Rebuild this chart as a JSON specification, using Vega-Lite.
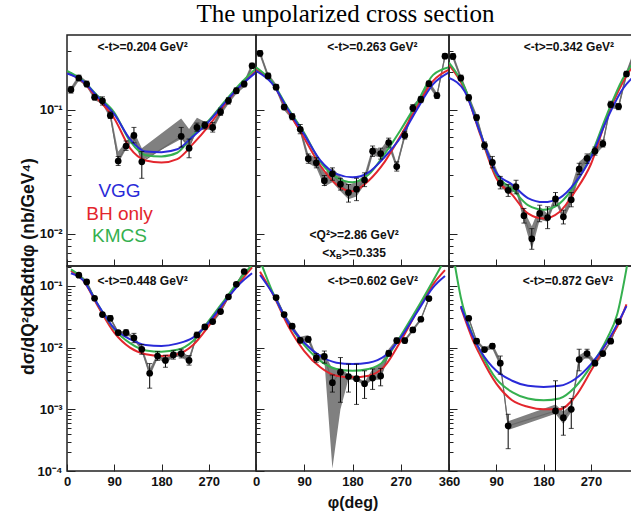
{
"$schema":"https://vega.github.io/schema/vega-lite/v6.json",
"padding":{"left":18,"top":2,"right":0,"bottom":0},
"title":{"text":"The unpolarized cross section","font":"Liberation Serif","fontSize":25,"fontWeight":"normal","color":"#000","anchor":"middle","offset":7,"dx":20},
"config":{
 "view":{"stroke":"#222","strokeWidth":1.5},
 "axis":{"grid":false,"domain":false,"tickColor":"#222","tickWidth":1,"labelFont":"Liberation Sans","labelFontWeight":"bold","labelFontSize":13,"labelColor":"#111","titleFont":"Liberation Sans","titleFontWeight":"bold","titleFontSize":15,"titleColor":"#111","labelOverlap":false,"labelFlush":false},
 "text":{"font":"Liberation Sans"}
},
"datasets":{
 "pts":[
{"p":"TL","phi":7.5,"v":0.145,"lo":0.136,"hi":0.154,"slo":0.137,"shi":0.152},
{"p":"TL","phi":22.5,"v":0.18,"lo":0.172,"hi":0.19,"slo":0.171,"shi":0.19},
{"p":"TL","phi":37.5,"v":0.161,"lo":0.153,"hi":0.17,"slo":0.153,"shi":0.17},
{"p":"TL","phi":52.5,"v":0.126,"lo":0.12,"hi":0.133,"slo":0.119,"shi":0.134},
{"p":"TL","phi":67.5,"v":0.118,"lo":0.109,"hi":0.127,"slo":0.111,"shi":0.126},
{"p":"TL","phi":82.5,"v":0.09,"lo":0.085,"hi":0.096,"slo":0.084,"shi":0.098},
{"p":"TL","phi":97.5,"v":0.0386,"lo":0.0355,"hi":0.042,"slo":0.037,"shi":0.046},
{"p":"TL","phi":112.5,"v":0.051,"lo":0.047,"hi":0.056,"slo":0.048,"shi":0.055},
{"p":"TL","phi":127.5,"v":0.062,"lo":0.054,"hi":0.072,"slo":0.058,"shi":0.067},
{"p":"TL","phi":142.5,"v":0.038,"lo":0.028,"hi":0.046,"slo":0.039,"shi":0.049},
{"p":"TL","phi":217.5,"v":0.061,"lo":0.05,"hi":0.072,"slo":0.058,"shi":0.085},
{"p":"TL","phi":232.5,"v":0.049,"lo":0.041,"hi":0.058,"slo":0.05,"shi":0.07},
{"p":"TL","phi":247.5,"v":0.072,"lo":0.067,"hi":0.078,"slo":0.066,"shi":0.086},
{"p":"TL","phi":262.5,"v":0.075,"lo":0.07,"hi":0.08,"slo":0.07,"shi":0.08},
{"p":"TL","phi":277.5,"v":0.072,"lo":0.066,"hi":0.079,"slo":0.068,"shi":0.077},
{"p":"TL","phi":292.5,"v":0.096,"lo":0.09,"hi":0.103,"slo":0.09,"shi":0.102},
{"p":"TL","phi":307.5,"v":0.118,"lo":0.111,"hi":0.125,"slo":0.111,"shi":0.125},
{"p":"TL","phi":322.5,"v":0.142,"lo":0.135,"hi":0.15,"slo":0.134,"shi":0.15},
{"p":"TL","phi":337.5,"v":0.161,"lo":0.153,"hi":0.17,"slo":0.152,"shi":0.17},
{"p":"TL","phi":352.5,"v":0.226,"lo":0.215,"hi":0.237,"slo":0.213,"shi":0.24},
{"p":"TM","phi":7.5,"v":0.285,"lo":0.27,"hi":0.3,"slo":0.27,"shi":0.3},
{"p":"TM","phi":22.5,"v":0.187,"lo":0.178,"hi":0.197,"slo":0.176,"shi":0.198},
{"p":"TM","phi":37.5,"v":0.152,"lo":0.145,"hi":0.16,"slo":0.143,"shi":0.161},
{"p":"TM","phi":52.5,"v":0.105,"lo":0.1,"hi":0.11,"slo":0.099,"shi":0.111},
{"p":"TM","phi":67.5,"v":0.088,"lo":0.083,"hi":0.093,"slo":0.083,"shi":0.093},
{"p":"TM","phi":82.5,"v":0.0695,"lo":0.064,"hi":0.076,"slo":0.065,"shi":0.074},
{"p":"TM","phi":97.5,"v":0.0403,"lo":0.037,"hi":0.044,"slo":0.037,"shi":0.044},
{"p":"TM","phi":112.5,"v":0.0373,"lo":0.034,"hi":0.041,"slo":0.034,"shi":0.041},
{"p":"TM","phi":127.5,"v":0.0268,"lo":0.0245,"hi":0.0295,"slo":0.024,"shi":0.031},
{"p":"TM","phi":142.5,"v":0.0304,"lo":0.027,"hi":0.034,"slo":0.026,"shi":0.034},
{"p":"TM","phi":157.5,"v":0.0251,"lo":0.0225,"hi":0.028,"slo":0.022,"shi":0.029},
{"p":"TM","phi":172.5,"v":0.0215,"lo":0.018,"hi":0.025,"slo":0.019,"shi":0.025},
{"p":"TM","phi":187.5,"v":0.0229,"lo":0.0185,"hi":0.028,"slo":0.02,"shi":0.026},
{"p":"TM","phi":202.5,"v":0.0271,"lo":0.024,"hi":0.031,"slo":0.025,"shi":0.03},
{"p":"TM","phi":217.5,"v":0.0463,"lo":0.042,"hi":0.051,"slo":0.043,"shi":0.05},
{"p":"TM","phi":232.5,"v":0.0443,"lo":0.04,"hi":0.049,"slo":0.041,"shi":0.048},
{"p":"TM","phi":247.5,"v":0.0544,"lo":0.05,"hi":0.059,"slo":0.05,"shi":0.059},
{"p":"TM","phi":262.5,"v":0.0348,"lo":0.032,"hi":0.038,"slo":0.033,"shi":0.037},
{"p":"TM","phi":277.5,"v":0.062,"lo":0.058,"hi":0.067,"slo":0.058,"shi":0.066},
{"p":"TM","phi":292.5,"v":0.103,"lo":0.097,"hi":0.11,"slo":0.097,"shi":0.109},
{"p":"TM","phi":307.5,"v":0.121,"lo":0.114,"hi":0.128,"slo":0.114,"shi":0.128},
{"p":"TM","phi":322.5,"v":0.162,"lo":0.154,"hi":0.17,"slo":0.153,"shi":0.171},
{"p":"TM","phi":337.5,"v":0.13,"lo":0.123,"hi":0.137,"slo":0.123,"shi":0.137},
{"p":"TM","phi":352.5,"v":0.27,"lo":0.258,"hi":0.283,"slo":0.255,"shi":0.286},
{"p":"TR","phi":7.5,"v":0.269,"lo":0.255,"hi":0.283,"slo":0.254,"shi":0.285},
{"p":"TR","phi":22.5,"v":0.18,"lo":0.171,"hi":0.19,"slo":0.17,"shi":0.19},
{"p":"TR","phi":37.5,"v":0.125,"lo":0.118,"hi":0.132,"slo":0.118,"shi":0.132},
{"p":"TR","phi":52.5,"v":0.0865,"lo":0.082,"hi":0.091,"slo":0.081,"shi":0.092},
{"p":"TR","phi":67.5,"v":0.0515,"lo":0.048,"hi":0.055,"slo":0.048,"shi":0.055},
{"p":"TR","phi":82.5,"v":0.0376,"lo":0.034,"hi":0.042,"slo":0.035,"shi":0.04},
{"p":"TR","phi":97.5,"v":0.0256,"lo":0.023,"hi":0.029,"slo":0.024,"shi":0.028},
{"p":"TR","phi":112.5,"v":0.0224,"lo":0.02,"hi":0.025,"slo":0.021,"shi":0.024},
{"p":"TR","phi":127.5,"v":0.0239,"lo":0.021,"hi":0.027,"slo":0.022,"shi":0.026},
{"p":"TR","phi":142.5,"v":0.014,"lo":0.0122,"hi":0.016,"slo":0.0125,"shi":0.0155},
{"p":"TR","phi":157.5,"v":0.0091,"lo":0.0075,"hi":0.011,"slo":0.0075,"shi":0.0115},
{"p":"TR","phi":172.5,"v":0.0146,"lo":0.0125,"hi":0.017,"slo":0.013,"shi":0.0165},
{"p":"TR","phi":187.5,"v":0.0135,"lo":0.011,"hi":0.0165,"slo":0.0125,"shi":0.0145},
{"p":"TR","phi":202.5,"v":0.0191,"lo":0.017,"hi":0.0215,"slo":0.018,"shi":0.0205},
{"p":"TR","phi":217.5,"v":0.0137,"lo":0.012,"hi":0.0155,"slo":0.0128,"shi":0.0146},
{"p":"TR","phi":232.5,"v":0.0188,"lo":0.0165,"hi":0.0215,"slo":0.0175,"shi":0.024},
{"p":"TR","phi":247.5,"v":0.0332,"lo":0.03,"hi":0.037,"slo":0.029,"shi":0.038},
{"p":"TR","phi":262.5,"v":0.0406,"lo":0.037,"hi":0.044,"slo":0.038,"shi":0.043},
{"p":"TR","phi":277.5,"v":0.0463,"lo":0.043,"hi":0.05,"slo":0.043,"shi":0.049},
{"p":"TR","phi":292.5,"v":0.0532,"lo":0.05,"hi":0.057,"slo":0.05,"shi":0.056},
{"p":"TR","phi":307.5,"v":0.11,"lo":0.104,"hi":0.117,"slo":0.103,"shi":0.117},
{"p":"TR","phi":322.5,"v":0.106,"lo":0.1,"hi":0.112,"slo":0.1,"shi":0.112},
{"p":"TR","phi":337.5,"v":0.194,"lo":0.185,"hi":0.204,"slo":0.182,"shi":0.206},
{"p":"TR","phi":352.5,"v":0.29,"lo":0.276,"hi":0.305,"slo":0.272,"shi":0.31},
{"p":"BL","phi":22.5,"v":0.149,"lo":0.14,"hi":0.158,"slo":0.14,"shi":0.158},
{"p":"BL","phi":37.5,"v":0.116,"lo":0.109,"hi":0.124,"slo":0.109,"shi":0.123},
{"p":"BL","phi":52.5,"v":0.063,"lo":0.059,"hi":0.067,"slo":0.059,"shi":0.067},
{"p":"BL","phi":67.5,"v":0.0343,"lo":0.032,"hi":0.037,"slo":0.032,"shi":0.036},
{"p":"BL","phi":82.5,"v":0.0299,"lo":0.027,"hi":0.033,"slo":0.028,"shi":0.032},
{"p":"BL","phi":97.5,"v":0.0175,"lo":0.016,"hi":0.019,"slo":0.0164,"shi":0.0186},
{"p":"BL","phi":112.5,"v":0.0175,"lo":0.0155,"hi":0.0195,"slo":0.0164,"shi":0.0186},
{"p":"BL","phi":127.5,"v":0.0144,"lo":0.012,"hi":0.017,"slo":0.0135,"shi":0.0153},
{"p":"BL","phi":142.5,"v":0.0094,"lo":0.0078,"hi":0.0112,"slo":0.0085,"shi":0.0105},
{"p":"BL","phi":157.5,"v":0.00384,"lo":0.0022,"hi":0.0055,"slo":0.0034,"shi":0.0045},
{"p":"BL","phi":172.5,"v":0.0073,"lo":0.0062,"hi":0.0086,"slo":0.0066,"shi":0.008},
{"p":"BL","phi":187.5,"v":0.0062,"lo":0.0048,"hi":0.0075,"slo":0.0056,"shi":0.0068},
{"p":"BL","phi":202.5,"v":0.0076,"lo":0.0065,"hi":0.0089,"slo":0.007,"shi":0.0082},
{"p":"BL","phi":217.5,"v":0.008,"lo":0.0068,"hi":0.0094,"slo":0.0072,"shi":0.0088},
{"p":"BL","phi":232.5,"v":0.0062,"lo":0.0052,"hi":0.0074,"slo":0.0056,"shi":0.0072},
{"p":"BL","phi":247.5,"v":0.016,"lo":0.0145,"hi":0.0178,"slo":0.015,"shi":0.0172},
{"p":"BL","phi":262.5,"v":0.0216,"lo":0.0198,"hi":0.0235,"slo":0.0203,"shi":0.023},
{"p":"BL","phi":277.5,"v":0.0264,"lo":0.0245,"hi":0.0285,"slo":0.0248,"shi":0.028},
{"p":"BL","phi":292.5,"v":0.0384,"lo":0.036,"hi":0.041,"slo":0.036,"shi":0.041},
{"p":"BL","phi":307.5,"v":0.0664,"lo":0.062,"hi":0.071,"slo":0.0624,"shi":0.0705},
{"p":"BL","phi":322.5,"v":0.106,"lo":0.1,"hi":0.113,"slo":0.0996,"shi":0.112},
{"p":"BL","phi":337.5,"v":0.171,"lo":0.162,"hi":0.18,"slo":0.161,"shi":0.181},
{"p":"BM","phi":37.5,"v":0.0647,"lo":0.06,"hi":0.07,"slo":0.061,"shi":0.069},
{"p":"BM","phi":52.5,"v":0.0343,"lo":0.032,"hi":0.037,"slo":0.0322,"shi":0.0364},
{"p":"BM","phi":67.5,"v":0.0222,"lo":0.0205,"hi":0.024,"slo":0.0209,"shi":0.0235},
{"p":"BM","phi":82.5,"v":0.0131,"lo":0.012,"hi":0.0143,"slo":0.0115,"shi":0.015},
{"p":"BM","phi":97.5,"v":0.0136,"lo":0.0122,"hi":0.015,"slo":0.0125,"shi":0.016},
{"p":"BM","phi":112.5,"v":0.0068,"lo":0.0058,"hi":0.008,"slo":0.0062,"shi":0.0075},
{"p":"BM","phi":127.5,"v":0.0072,"lo":0.0056,"hi":0.0088,"slo":0.0062,"shi":0.0082},
{"p":"BM","phi":142.5,"v":0.0027,"lo":0.0019,"hi":0.0036,"slo":0.00011,"shi":0.0045},
{"p":"BM","phi":157.5,"v":0.004,"lo":0.0013,"hi":0.0069,"slo":0.001,"shi":0.0046},
{"p":"BM","phi":172.5,"v":0.0034,"lo":0.0019,"hi":0.0054,"slo":0.0031,"shi":0.0037},
{"p":"BM","phi":187.5,"v":0.00314,"lo":0.0012,"hi":0.0054,"slo":0.0029,"shi":0.0034},
{"p":"BM","phi":202.5,"v":0.0026,"lo":0.0015,"hi":0.0042,"slo":0.0024,"shi":0.0028},
{"p":"BM","phi":217.5,"v":0.0032,"lo":0.0021,"hi":0.0045,"slo":0.003,"shi":0.0045},
{"p":"BM","phi":232.5,"v":0.00347,"lo":0.0024,"hi":0.0046,"slo":0.003,"shi":0.0055},
{"p":"BM","phi":247.5,"v":0.0081,"lo":0.0072,"hi":0.009,"slo":0.0075,"shi":0.0095},
{"p":"BM","phi":262.5,"v":0.013,"lo":0.0118,"hi":0.0143,"slo":0.0122,"shi":0.0138},
{"p":"BM","phi":277.5,"v":0.013,"lo":0.0118,"hi":0.0143,"slo":0.0122,"shi":0.0138},
{"p":"BM","phi":292.5,"v":0.0193,"lo":0.0178,"hi":0.021,"slo":0.0181,"shi":0.0205},
{"p":"BM","phi":307.5,"v":0.0288,"lo":0.027,"hi":0.031,"slo":0.027,"shi":0.0305},
{"p":"BM","phi":322.5,"v":0.0624,"lo":0.058,"hi":0.067,"slo":0.0587,"shi":0.066},
{"p":"BR","phi":37.5,"v":0.0299,"lo":0.028,"hi":0.032,"slo":0.028,"shi":0.032},
{"p":"BR","phi":52.5,"v":0.0127,"lo":0.0118,"hi":0.0137,"slo":0.0119,"shi":0.0135},
{"p":"BR","phi":67.5,"v":0.0093,"lo":0.0086,"hi":0.0101,"slo":0.0087,"shi":0.0099},
{"p":"BR","phi":82.5,"v":0.0106,"lo":0.0097,"hi":0.0116,"slo":0.0095,"shi":0.0118},
{"p":"BR","phi":97.5,"v":0.0056,"lo":0.0037,"hi":0.0073,"slo":0.005,"shi":0.0065},
{"p":"BR","phi":112.5,"v":0.00054,"lo":0.00023,"hi":0.00083,"slo":0.00046,"shi":0.00064},
{"p":"BR","phi":202.5,"v":0.00094,"lo":0.00009,"hi":0.0029,"slo":0.00085,"shi":0.0012},
{"p":"BR","phi":217.5,"v":0.00073,"lo":0.00038,"hi":0.0011,"slo":0.00058,"shi":0.00092},
{"p":"BR","phi":232.5,"v":0.001,"lo":0.00049,"hi":0.0015,"slo":0.0009,"shi":0.0012},
{"p":"BR","phi":247.5,"v":0.0064,"lo":0.0042,"hi":0.0094,"slo":0.0055,"shi":0.0075},
{"p":"BR","phi":262.5,"v":0.008,"lo":0.0068,"hi":0.0094,"slo":0.0072,"shi":0.009},
{"p":"BR","phi":277.5,"v":0.0056,"lo":0.0051,"hi":0.0062,"slo":0.005,"shi":0.0062},
{"p":"BR","phi":292.5,"v":0.008,"lo":0.0074,"hi":0.0087,"slo":0.0075,"shi":0.0085},
{"p":"BR","phi":307.5,"v":0.0127,"lo":0.0118,"hi":0.0137,"slo":0.012,"shi":0.0134},
{"p":"BR","phi":322.5,"v":0.0264,"lo":0.0245,"hi":0.0285,"slo":0.025,"shi":0.028}
 ],
 "cur":[
{"p":"TL","m":"BH","phi":0,"v":0.2},{"p":"TL","m":"BH","phi":30,"v":0.168},{"p":"TL","m":"BH","phi":60,"v":0.12},{"p":"TL","m":"BH","phi":90,"v":0.085},{"p":"TL","m":"BH","phi":120,"v":0.049},{"p":"TL","m":"BH","phi":150,"v":0.039},{"p":"TL","m":"BH","phi":180,"v":0.0375},{"p":"TL","m":"BH","phi":210,"v":0.04},{"p":"TL","m":"BH","phi":240,"v":0.053},{"p":"TL","m":"BH","phi":270,"v":0.074},{"p":"TL","m":"BH","phi":300,"v":0.11},{"p":"TL","m":"BH","phi":330,"v":0.155},{"p":"TL","m":"BH","phi":360,"v":0.205},
{"p":"TL","m":"KMCS","phi":0,"v":0.205},{"p":"TL","m":"KMCS","phi":30,"v":0.172},{"p":"TL","m":"KMCS","phi":60,"v":0.127},{"p":"TL","m":"KMCS","phi":90,"v":0.095},{"p":"TL","m":"KMCS","phi":120,"v":0.056},{"p":"TL","m":"KMCS","phi":150,"v":0.043},{"p":"TL","m":"KMCS","phi":180,"v":0.042},{"p":"TL","m":"KMCS","phi":210,"v":0.045},{"p":"TL","m":"KMCS","phi":240,"v":0.062},{"p":"TL","m":"KMCS","phi":270,"v":0.082},{"p":"TL","m":"KMCS","phi":300,"v":0.116},{"p":"TL","m":"KMCS","phi":330,"v":0.162},{"p":"TL","m":"KMCS","phi":360,"v":0.215},
{"p":"TL","m":"VGG","phi":0,"v":0.196},{"p":"TL","m":"VGG","phi":30,"v":0.17},{"p":"TL","m":"VGG","phi":60,"v":0.125},{"p":"TL","m":"VGG","phi":90,"v":0.092},{"p":"TL","m":"VGG","phi":120,"v":0.058},{"p":"TL","m":"VGG","phi":150,"v":0.046},{"p":"TL","m":"VGG","phi":180,"v":0.0455},{"p":"TL","m":"VGG","phi":210,"v":0.048},{"p":"TL","m":"VGG","phi":240,"v":0.061},{"p":"TL","m":"VGG","phi":270,"v":0.08},{"p":"TL","m":"VGG","phi":300,"v":0.113},{"p":"TL","m":"VGG","phi":330,"v":0.155},{"p":"TL","m":"VGG","phi":360,"v":0.2},
{"p":"TM","m":"BH","phi":0,"v":0.21},{"p":"TM","m":"BH","phi":30,"v":0.165},{"p":"TM","m":"BH","phi":60,"v":0.097},{"p":"TM","m":"BH","phi":90,"v":0.059},{"p":"TM","m":"BH","phi":120,"v":0.0355},{"p":"TM","m":"BH","phi":150,"v":0.025},{"p":"TM","m":"BH","phi":180,"v":0.022},{"p":"TM","m":"BH","phi":210,"v":0.0268},{"p":"TM","m":"BH","phi":240,"v":0.038},{"p":"TM","m":"BH","phi":270,"v":0.062},{"p":"TM","m":"BH","phi":300,"v":0.105},{"p":"TM","m":"BH","phi":330,"v":0.17},{"p":"TM","m":"BH","phi":360,"v":0.21},
{"p":"TM","m":"KMCS","phi":0,"v":0.22},{"p":"TM","m":"KMCS","phi":30,"v":0.168},{"p":"TM","m":"KMCS","phi":60,"v":0.102},{"p":"TM","m":"KMCS","phi":90,"v":0.065},{"p":"TM","m":"KMCS","phi":120,"v":0.038},{"p":"TM","m":"KMCS","phi":150,"v":0.0285},{"p":"TM","m":"KMCS","phi":180,"v":0.026},{"p":"TM","m":"KMCS","phi":210,"v":0.03},{"p":"TM","m":"KMCS","phi":240,"v":0.044},{"p":"TM","m":"KMCS","phi":270,"v":0.069},{"p":"TM","m":"KMCS","phi":300,"v":0.113},{"p":"TM","m":"KMCS","phi":330,"v":0.19},{"p":"TM","m":"KMCS","phi":360,"v":0.22},
{"p":"TM","m":"VGG","phi":0,"v":0.206},{"p":"TM","m":"VGG","phi":30,"v":0.163},{"p":"TM","m":"VGG","phi":60,"v":0.1},{"p":"TM","m":"VGG","phi":90,"v":0.063},{"p":"TM","m":"VGG","phi":120,"v":0.039},{"p":"TM","m":"VGG","phi":150,"v":0.0304},{"p":"TM","m":"VGG","phi":180,"v":0.0285},{"p":"TM","m":"VGG","phi":210,"v":0.0313},{"p":"TM","m":"VGG","phi":240,"v":0.0416},{"p":"TM","m":"VGG","phi":270,"v":0.06},{"p":"TM","m":"VGG","phi":300,"v":0.1},{"p":"TM","m":"VGG","phi":330,"v":0.16},{"p":"TM","m":"VGG","phi":360,"v":0.2},
{"p":"TR","m":"BH","phi":0,"v":0.23},{"p":"TR","m":"BH","phi":30,"v":0.145},{"p":"TR","m":"BH","phi":60,"v":0.062},{"p":"TR","m":"BH","phi":90,"v":0.028},{"p":"TR","m":"BH","phi":120,"v":0.0207},{"p":"TR","m":"BH","phi":150,"v":0.0146},{"p":"TR","m":"BH","phi":180,"v":0.0133},{"p":"TR","m":"BH","phi":210,"v":0.015},{"p":"TR","m":"BH","phi":240,"v":0.022},{"p":"TR","m":"BH","phi":270,"v":0.0365},{"p":"TR","m":"BH","phi":300,"v":0.086},{"p":"TR","m":"BH","phi":330,"v":0.165},{"p":"TR","m":"BH","phi":360,"v":0.26},
{"p":"TR","m":"KMCS","phi":0,"v":0.24},{"p":"TR","m":"KMCS","phi":30,"v":0.15},{"p":"TR","m":"KMCS","phi":60,"v":0.064},{"p":"TR","m":"KMCS","phi":90,"v":0.03},{"p":"TR","m":"KMCS","phi":120,"v":0.023},{"p":"TR","m":"KMCS","phi":150,"v":0.017},{"p":"TR","m":"KMCS","phi":180,"v":0.0156},{"p":"TR","m":"KMCS","phi":210,"v":0.0175},{"p":"TR","m":"KMCS","phi":240,"v":0.025},{"p":"TR","m":"KMCS","phi":270,"v":0.043},{"p":"TR","m":"KMCS","phi":300,"v":0.0906},{"p":"TR","m":"KMCS","phi":330,"v":0.176},{"p":"TR","m":"KMCS","phi":360,"v":0.27},
{"p":"TR","m":"VGG","phi":0,"v":0.18},{"p":"TR","m":"VGG","phi":30,"v":0.14},{"p":"TR","m":"VGG","phi":60,"v":0.064},{"p":"TR","m":"VGG","phi":90,"v":0.031},{"p":"TR","m":"VGG","phi":120,"v":0.025},{"p":"TR","m":"VGG","phi":150,"v":0.0194},{"p":"TR","m":"VGG","phi":180,"v":0.018},{"p":"TR","m":"VGG","phi":210,"v":0.0194},{"p":"TR","m":"VGG","phi":240,"v":0.0258},{"p":"TR","m":"VGG","phi":270,"v":0.0414},{"p":"TR","m":"VGG","phi":300,"v":0.083},{"p":"TR","m":"VGG","phi":330,"v":0.146},{"p":"TR","m":"VGG","phi":360,"v":0.2},
{"p":"BL","m":"BH","phi":7.5,"v":0.175},{"p":"BL","m":"BH","phi":30,"v":0.125},{"p":"BL","m":"BH","phi":60,"v":0.045},{"p":"BL","m":"BH","phi":90,"v":0.0175},{"p":"BL","m":"BH","phi":120,"v":0.01},{"p":"BL","m":"BH","phi":150,"v":0.0078},{"p":"BL","m":"BH","phi":180,"v":0.0073},{"p":"BL","m":"BH","phi":210,"v":0.0078},{"p":"BL","m":"BH","phi":240,"v":0.011},{"p":"BL","m":"BH","phi":270,"v":0.0225},{"p":"BL","m":"BH","phi":300,"v":0.053},{"p":"BL","m":"BH","phi":330,"v":0.118},{"p":"BL","m":"BH","phi":352.5,"v":0.2},
{"p":"BL","m":"KMCS","phi":7.5,"v":0.185},{"p":"BL","m":"KMCS","phi":30,"v":0.13},{"p":"BL","m":"KMCS","phi":60,"v":0.048},{"p":"BL","m":"KMCS","phi":90,"v":0.0197},{"p":"BL","m":"KMCS","phi":120,"v":0.0118},{"p":"BL","m":"KMCS","phi":150,"v":0.009},{"p":"BL","m":"KMCS","phi":180,"v":0.0086},{"p":"BL","m":"KMCS","phi":210,"v":0.0092},{"p":"BL","m":"KMCS","phi":240,"v":0.0128},{"p":"BL","m":"KMCS","phi":270,"v":0.027},{"p":"BL","m":"KMCS","phi":300,"v":0.059},{"p":"BL","m":"KMCS","phi":330,"v":0.13},{"p":"BL","m":"KMCS","phi":352.5,"v":0.22},
{"p":"BL","m":"VGG","phi":7.5,"v":0.16},{"p":"BL","m":"VGG","phi":30,"v":0.125},{"p":"BL","m":"VGG","phi":60,"v":0.048},{"p":"BL","m":"VGG","phi":90,"v":0.0205},{"p":"BL","m":"VGG","phi":120,"v":0.0137},{"p":"BL","m":"VGG","phi":150,"v":0.011},{"p":"BL","m":"VGG","phi":180,"v":0.0106},{"p":"BL","m":"VGG","phi":210,"v":0.0116},{"p":"BL","m":"VGG","phi":240,"v":0.0145},{"p":"BL","m":"VGG","phi":270,"v":0.0254},{"p":"BL","m":"VGG","phi":300,"v":0.055},{"p":"BL","m":"VGG","phi":330,"v":0.11},{"p":"BL","m":"VGG","phi":352.5,"v":0.16},
{"p":"BM","m":"BH","phi":7.5,"v":0.17},{"p":"BM","m":"BH","phi":30,"v":0.078},{"p":"BM","m":"BH","phi":60,"v":0.0224},{"p":"BM","m":"BH","phi":90,"v":0.0088},{"p":"BM","m":"BH","phi":120,"v":0.0048},{"p":"BM","m":"BH","phi":150,"v":0.0035},{"p":"BM","m":"BH","phi":180,"v":0.0033},{"p":"BM","m":"BH","phi":210,"v":0.0035},{"p":"BM","m":"BH","phi":240,"v":0.005},{"p":"BM","m":"BH","phi":270,"v":0.0128},{"p":"BM","m":"BH","phi":300,"v":0.038},{"p":"BM","m":"BH","phi":330,"v":0.105},{"p":"BM","m":"BH","phi":352.5,"v":0.18},
{"p":"BM","m":"KMCS","phi":7.5,"v":0.26},{"p":"BM","m":"KMCS","phi":30,"v":0.083},{"p":"BM","m":"KMCS","phi":60,"v":0.0254},{"p":"BM","m":"KMCS","phi":90,"v":0.011},{"p":"BM","m":"KMCS","phi":120,"v":0.0061},{"p":"BM","m":"KMCS","phi":150,"v":0.0045},{"p":"BM","m":"KMCS","phi":180,"v":0.0042},{"p":"BM","m":"KMCS","phi":210,"v":0.0045},{"p":"BM","m":"KMCS","phi":240,"v":0.0062},{"p":"BM","m":"KMCS","phi":270,"v":0.0155},{"p":"BM","m":"KMCS","phi":300,"v":0.042},{"p":"BM","m":"KMCS","phi":330,"v":0.12},{"p":"BM","m":"KMCS","phi":352.5,"v":0.27},
{"p":"BM","m":"VGG","phi":7.5,"v":0.15},{"p":"BM","m":"VGG","phi":30,"v":0.078},{"p":"BM","m":"VGG","phi":60,"v":0.0254},{"p":"BM","m":"VGG","phi":90,"v":0.012},{"p":"BM","m":"VGG","phi":120,"v":0.0073},{"p":"BM","m":"VGG","phi":150,"v":0.0057},{"p":"BM","m":"VGG","phi":180,"v":0.0054},{"p":"BM","m":"VGG","phi":210,"v":0.0057},{"p":"BM","m":"VGG","phi":240,"v":0.0073},{"p":"BM","m":"VGG","phi":270,"v":0.0145},{"p":"BM","m":"VGG","phi":300,"v":0.037},{"p":"BM","m":"VGG","phi":330,"v":0.094},{"p":"BM","m":"VGG","phi":352.5,"v":0.145},
{"p":"BR","m":"BH","phi":22.5,"v":0.045},{"p":"BR","m":"BH","phi":45,"v":0.0135},{"p":"BR","m":"BH","phi":60,"v":0.0073},{"p":"BR","m":"BH","phi":90,"v":0.0026},{"p":"BR","m":"BH","phi":120,"v":0.0014},{"p":"BR","m":"BH","phi":150,"v":0.0011},{"p":"BR","m":"BH","phi":180,"v":0.001},{"p":"BR","m":"BH","phi":210,"v":0.001},{"p":"BR","m":"BH","phi":240,"v":0.0016},{"p":"BR","m":"BH","phi":270,"v":0.0042},{"p":"BR","m":"BH","phi":300,"v":0.012},{"p":"BR","m":"BH","phi":320,"v":0.022},{"p":"BR","m":"BH","phi":337.5,"v":0.05},
{"p":"BR","m":"KMCS","phi":10,"v":0.25},{"p":"BR","m":"KMCS","phi":22.5,"v":0.065},{"p":"BR","m":"KMCS","phi":45,"v":0.016},{"p":"BR","m":"KMCS","phi":60,"v":0.0085},{"p":"BR","m":"KMCS","phi":90,"v":0.0031},{"p":"BR","m":"KMCS","phi":120,"v":0.0019},{"p":"BR","m":"KMCS","phi":150,"v":0.0015},{"p":"BR","m":"KMCS","phi":180,"v":0.0014},{"p":"BR","m":"KMCS","phi":210,"v":0.0015},{"p":"BR","m":"KMCS","phi":240,"v":0.0023},{"p":"BR","m":"KMCS","phi":270,"v":0.005},{"p":"BR","m":"KMCS","phi":300,"v":0.0137},{"p":"BR","m":"KMCS","phi":320,"v":0.035},{"p":"BR","m":"KMCS","phi":340,"v":0.25},
{"p":"BR","m":"VGG","phi":22.5,"v":0.047},{"p":"BR","m":"VGG","phi":45,"v":0.0155},{"p":"BR","m":"VGG","phi":60,"v":0.0088},{"p":"BR","m":"VGG","phi":90,"v":0.0042},{"p":"BR","m":"VGG","phi":120,"v":0.0029},{"p":"BR","m":"VGG","phi":150,"v":0.0024},{"p":"BR","m":"VGG","phi":180,"v":0.0023},{"p":"BR","m":"VGG","phi":210,"v":0.0024},{"p":"BR","m":"VGG","phi":240,"v":0.0031},{"p":"BR","m":"VGG","phi":270,"v":0.0054},{"p":"BR","m":"VGG","phi":300,"v":0.012},{"p":"BR","m":"VGG","phi":320,"v":0.024},{"p":"BR","m":"VGG","phi":337.5,"v":0.047}
 ],
 "lab":[
{"p":"TL","phi":144,"v":0.318,"t":"<-t>=0.204 GeV²"},
{"p":"TM","phi":217,"v":0.318,"t":"<-t>=0.263 GeV²"},
{"p":"TR","phi":228,"v":0.318,"t":"<-t>=0.342 GeV²"},
{"p":"BL","phi":144,"v":0.12,"t":"<-t>=0.448 GeV²"},
{"p":"BM","phi":218,"v":0.12,"t":"<-t>=0.602 GeV²"},
{"p":"BR","phi":226,"v":0.12,"t":"<-t>=0.872 GeV²"},
{"p":"TM","phi":183,"v":0.00975,"t":"<Q²>=2.86 GeV²"}
 ],
 "leg":[
{"m":"VGG","phi":100,"v":0.022,"t":"VGG"},
{"m":"BH","phi":100,"v":0.0145,"t":"BH only"},
{"m":"KMCS","phi":100,"v":0.0096,"t":"KMCS"}
 ],
 "xb":[
{"k":"a","phi":149,"v":0.00703,"t":"<x"},
{"k":"b","phi":149,"v":0.00703,"t":"B"},
{"k":"c","phi":149,"v":0.00703,"t":">=0.335"}
 ]
},
"concat":[
  {"width":189,"height":231,"layer":[
   {"data":{"name":"pts"},"transform":[{"filter":"datum.p=='TL'"}],"mark":{"type":"area","color":"#808080","clip":true},
    "encoding":{"x":{"field":"phi","type":"quantitative","scale":{"domain":[0,360],"nice":false,"zero":false},"axis":{"values":[0,45,90,135,180,225,270,315,360],"labels":false,"title":null,"tickSize":{"condition":{"test":"datum.value%90==0","value":-7},"value":-4}}},
     "y":{"field":"slo","type":"quantitative","scale":{"type":"log","domain":[0.0055,0.4],"nice":false},"axis":{"values":[0.006,0.007,0.008,0.009,0.01,0.02,0.03,0.04,0.05,0.06,0.07,0.08,0.09,0.1,0.2,0.3],"labelExpr":"datum.value==0.1?'10⁻¹':datum.value==0.01?'10⁻²':''","tickSize":{"condition":{"test":"datum.value==0.1||datum.value==0.01","value":-8},"value":-4},"labelPadding":13,"title":"dσ/dQ²dxBdtdφ (nb/GeV⁴)","titleFontSize":17.5,"titleX":-39,"titleY":231,"titleAngle":270,"titleAlign":"center","titleBaseline":"middle"}},
     "y2":{"field":"shi"}}},
   {"data":{"name":"pts"},"transform":[{"filter":"datum.p=='TL'"}],"mark":{"type":"line","color":"#6a6a6a","strokeWidth":1.2,"clip":true},"encoding":{"x":{"field":"phi","type":"quantitative"},"y":{"field":"v","type":"quantitative"}}},
   {"data":{"name":"cur"},"transform":[{"filter":"datum.p=='TL'"}],"mark":{"type":"line","strokeWidth":2,"interpolate":"monotone","clip":true},"encoding":{"x":{"field":"phi","type":"quantitative"},"y":{"field":"v","type":"quantitative"},"color":{"field":"m","type":"nominal","scale":{"domain":["VGG","BH","KMCS"],"range":["#2a2ad8","#e3262d","#35b04f"]},"legend":null}}},
   {"data":{"name":"pts"},"transform":[{"filter":"datum.p=='TL'"}],"mark":{"type":"rule","color":"#000","strokeWidth":1,"clip":true},"encoding":{"x":{"field":"phi","type":"quantitative"},"y":{"field":"lo","type":"quantitative"},"y2":{"field":"hi"}}},
   {"data":{"name":"pts"},"transform":[{"filter":"datum.p=='TL'"}],"mark":{"type":"tick","orient":"horizontal","size":5,"thickness":1,"color":"#000","clip":true},"encoding":{"x":{"field":"phi","type":"quantitative"},"y":{"field":"lo","type":"quantitative"}}},
   {"data":{"name":"pts"},"transform":[{"filter":"datum.p=='TL'"}],"mark":{"type":"tick","orient":"horizontal","size":5,"thickness":1,"color":"#000","clip":true},"encoding":{"x":{"field":"phi","type":"quantitative"},"y":{"field":"hi","type":"quantitative"}}},
   {"data":{"name":"pts"},"transform":[{"filter":"datum.p=='TL'"}],"mark":{"type":"circle","size":45,"color":"#000","opacity":1,"clip":true},"encoding":{"x":{"field":"phi","type":"quantitative"},"y":{"field":"v","type":"quantitative"}}},
   {"data":{"name":"lab"},"transform":[{"filter":"datum.p=='TL'"}],"mark":{"type":"text","fontWeight":"bold","fontSize":12,"color":"#111","align":"center","baseline":"middle"},"encoding":{"x":{"field":"phi","type":"quantitative"},"y":{"field":"v","type":"quantitative"},"text":{"field":"t"}}},
   {"data":{"name":"leg"},"mark":{"type":"text","fontSize":19,"align":"center","baseline":"middle"},"encoding":{"x":{"field":"phi","type":"quantitative"},"y":{"field":"v","type":"quantitative"},"text":{"field":"t"},"color":{"field":"m","type":"nominal","legend":null}}}
  ]},
  {"width":193,"height":231,"layer":[
   {"data":{"name":"pts"},"transform":[{"filter":"datum.p=='TM'"}],"mark":{"type":"area","color":"#808080","clip":true},
    "encoding":{"x":{"field":"phi","type":"quantitative","scale":{"domain":[0,360],"nice":false,"zero":false},"axis":{"values":[0,45,90,135,180,225,270,315,360],"labels":false,"title":null,"tickSize":{"condition":{"test":"datum.value%90==0","value":-7},"value":-4}}},
     "y":{"field":"slo","type":"quantitative","scale":{"type":"log","domain":[0.0055,0.4],"nice":false},"axis":{"values":[0.006,0.007,0.008,0.009,0.01,0.02,0.03,0.04,0.05,0.06,0.07,0.08,0.09,0.1,0.2,0.3],"labels":false,"title":null,"tickSize":{"condition":{"test":"datum.value==0.1||datum.value==0.01","value":-8},"value":-4}}},
     "y2":{"field":"shi"}}},
   {"data":{"name":"pts"},"transform":[{"filter":"datum.p=='TM'"}],"mark":{"type":"line","color":"#6a6a6a","strokeWidth":1.2,"clip":true},"encoding":{"x":{"field":"phi","type":"quantitative"},"y":{"field":"v","type":"quantitative"}}},
   {"data":{"name":"cur"},"transform":[{"filter":"datum.p=='TM'"}],"mark":{"type":"line","strokeWidth":2,"interpolate":"monotone","clip":true},"encoding":{"x":{"field":"phi","type":"quantitative"},"y":{"field":"v","type":"quantitative"},"color":{"field":"m","type":"nominal","scale":{"domain":["VGG","BH","KMCS"],"range":["#2a2ad8","#e3262d","#35b04f"]},"legend":null}}},
   {"data":{"name":"pts"},"transform":[{"filter":"datum.p=='TM'"}],"mark":{"type":"rule","color":"#000","strokeWidth":1,"clip":true},"encoding":{"x":{"field":"phi","type":"quantitative"},"y":{"field":"lo","type":"quantitative"},"y2":{"field":"hi"}}},
   {"data":{"name":"pts"},"transform":[{"filter":"datum.p=='TM'"}],"mark":{"type":"tick","orient":"horizontal","size":5,"thickness":1,"color":"#000","clip":true},"encoding":{"x":{"field":"phi","type":"quantitative"},"y":{"field":"lo","type":"quantitative"}}},
   {"data":{"name":"pts"},"transform":[{"filter":"datum.p=='TM'"}],"mark":{"type":"tick","orient":"horizontal","size":5,"thickness":1,"color":"#000","clip":true},"encoding":{"x":{"field":"phi","type":"quantitative"},"y":{"field":"hi","type":"quantitative"}}},
   {"data":{"name":"pts"},"transform":[{"filter":"datum.p=='TM'"}],"mark":{"type":"circle","size":45,"color":"#000","opacity":1,"clip":true},"encoding":{"x":{"field":"phi","type":"quantitative"},"y":{"field":"v","type":"quantitative"}}},
   {"data":{"name":"lab"},"transform":[{"filter":"datum.p=='TM'"}],"mark":{"type":"text","fontWeight":"bold","fontSize":12,"color":"#111","align":"center","baseline":"middle"},"encoding":{"x":{"field":"phi","type":"quantitative"},"y":{"field":"v","type":"quantitative"},"text":{"field":"t"}}},
   {"data":{"name":"xb"},"transform":[{"filter":"datum.k=='a'"}],"mark":{"type":"text","fontWeight":"bold","fontSize":12,"color":"#111","align":"right","baseline":"middle"},"encoding":{"x":{"field":"phi","type":"quantitative"},"y":{"field":"v","type":"quantitative"},"text":{"field":"t"}}},
   {"data":{"name":"xb"},"transform":[{"filter":"datum.k=='b'"}],"mark":{"type":"text","fontWeight":"bold","fontSize":8,"color":"#111","align":"left","baseline":"middle","dx":0,"dy":4},"encoding":{"x":{"field":"phi","type":"quantitative"},"y":{"field":"v","type":"quantitative"},"text":{"field":"t"}}},
   {"data":{"name":"xb"},"transform":[{"filter":"datum.k=='c'"}],"mark":{"type":"text","fontWeight":"bold","fontSize":12,"color":"#111","align":"left","baseline":"middle","dx":6},"encoding":{"x":{"field":"phi","type":"quantitative"},"y":{"field":"v","type":"quantitative"},"text":{"field":"t"}}}
  ]},
  {"width":183,"height":231,"layer":[
   {"data":{"name":"pts"},"transform":[{"filter":"datum.p=='TR'"}],"mark":{"type":"area","color":"#808080","clip":true},
    "encoding":{"x":{"field":"phi","type":"quantitative","scale":{"domain":[0,348],"nice":false,"zero":false},"axis":{"values":[0,45,90,135,180,225,270,315],"labels":false,"title":null,"tickSize":{"condition":{"test":"datum.value%90==0","value":-7},"value":-4}}},
     "y":{"field":"slo","type":"quantitative","scale":{"type":"log","domain":[0.0055,0.4],"nice":false},"axis":{"values":[0.006,0.007,0.008,0.009,0.01,0.02,0.03,0.04,0.05,0.06,0.07,0.08,0.09,0.1,0.2,0.3],"labels":false,"title":null,"tickSize":{"condition":{"test":"datum.value==0.1||datum.value==0.01","value":-8},"value":-4}}},
     "y2":{"field":"shi"}}},
   {"data":{"name":"pts"},"transform":[{"filter":"datum.p=='TR'"}],"mark":{"type":"line","color":"#6a6a6a","strokeWidth":1.2,"clip":true},"encoding":{"x":{"field":"phi","type":"quantitative"},"y":{"field":"v","type":"quantitative"}}},
   {"data":{"name":"cur"},"transform":[{"filter":"datum.p=='TR'"}],"mark":{"type":"line","strokeWidth":2,"interpolate":"monotone","clip":true},"encoding":{"x":{"field":"phi","type":"quantitative"},"y":{"field":"v","type":"quantitative"},"color":{"field":"m","type":"nominal","scale":{"domain":["VGG","BH","KMCS"],"range":["#2a2ad8","#e3262d","#35b04f"]},"legend":null}}},
   {"data":{"name":"pts"},"transform":[{"filter":"datum.p=='TR'"}],"mark":{"type":"rule","color":"#000","strokeWidth":1,"clip":true},"encoding":{"x":{"field":"phi","type":"quantitative"},"y":{"field":"lo","type":"quantitative"},"y2":{"field":"hi"}}},
   {"data":{"name":"pts"},"transform":[{"filter":"datum.p=='TR'"}],"mark":{"type":"tick","orient":"horizontal","size":5,"thickness":1,"color":"#000","clip":true},"encoding":{"x":{"field":"phi","type":"quantitative"},"y":{"field":"lo","type":"quantitative"}}},
   {"data":{"name":"pts"},"transform":[{"filter":"datum.p=='TR'"}],"mark":{"type":"tick","orient":"horizontal","size":5,"thickness":1,"color":"#000","clip":true},"encoding":{"x":{"field":"phi","type":"quantitative"},"y":{"field":"hi","type":"quantitative"}}},
   {"data":{"name":"pts"},"transform":[{"filter":"datum.p=='TR'"}],"mark":{"type":"circle","size":45,"color":"#000","opacity":1,"clip":true},"encoding":{"x":{"field":"phi","type":"quantitative"},"y":{"field":"v","type":"quantitative"}}},
   {"data":{"name":"lab"},"transform":[{"filter":"datum.p=='TR'"}],"mark":{"type":"text","fontWeight":"bold","fontSize":12,"color":"#111","align":"center","baseline":"middle"},"encoding":{"x":{"field":"phi","type":"quantitative"},"y":{"field":"v","type":"quantitative"},"text":{"field":"t"}}}
  ]},
  {"width":189,"height":205,"layer":[
   {"data":{"name":"pts"},"transform":[{"filter":"datum.p=='BL'"}],"mark":{"type":"area","color":"#808080","clip":true},
    "encoding":{"x":{"field":"phi","type":"quantitative","scale":{"domain":[0,360],"nice":false,"zero":false},"axis":{"values":[0,45,90,135,180,225,270,315,360],"labelExpr":"datum.value%90==0&&datum.value<360?''+datum.value:''","labelPadding":11,"title":null,"tickSize":{"condition":{"test":"datum.value%90==0","value":-7},"value":-4}}},
     "y":{"field":"slo","type":"quantitative","scale":{"type":"log","domain":[0.0001,0.21],"nice":false},"axis":{"values":[0.0001,0.0002,0.0003,0.0004,0.0005,0.0006,0.0007,0.0008,0.0009,0.001,0.002,0.003,0.004,0.005,0.006,0.007,0.008,0.009,0.01,0.02,0.03,0.04,0.05,0.06,0.07,0.08,0.09,0.1,0.2],"labelExpr":"datum.value==0.1?'10⁻¹':datum.value==0.01?'10⁻²':datum.value==0.001?'10⁻³':datum.value==0.0001?'10⁻⁴':''","tickSize":{"condition":{"test":"datum.value==0.1||datum.value==0.01||datum.value==0.001||datum.value==0.0001","value":-8},"value":-4},"labelPadding":13,"title":null}},
     "y2":{"field":"shi"}}},
   {"data":{"name":"pts"},"transform":[{"filter":"datum.p=='BL'"}],"mark":{"type":"line","color":"#6a6a6a","strokeWidth":1.2,"clip":true},"encoding":{"x":{"field":"phi","type":"quantitative"},"y":{"field":"v","type":"quantitative"}}},
   {"data":{"name":"cur"},"transform":[{"filter":"datum.p=='BL'"}],"mark":{"type":"line","strokeWidth":2,"interpolate":"monotone","clip":true},"encoding":{"x":{"field":"phi","type":"quantitative"},"y":{"field":"v","type":"quantitative"},"color":{"field":"m","type":"nominal","scale":{"domain":["VGG","BH","KMCS"],"range":["#2a2ad8","#e3262d","#35b04f"]},"legend":null}}},
   {"data":{"name":"pts"},"transform":[{"filter":"datum.p=='BL'"}],"mark":{"type":"rule","color":"#000","strokeWidth":1,"clip":true},"encoding":{"x":{"field":"phi","type":"quantitative"},"y":{"field":"lo","type":"quantitative"},"y2":{"field":"hi"}}},
   {"data":{"name":"pts"},"transform":[{"filter":"datum.p=='BL'"}],"mark":{"type":"tick","orient":"horizontal","size":5,"thickness":1,"color":"#000","clip":true},"encoding":{"x":{"field":"phi","type":"quantitative"},"y":{"field":"lo","type":"quantitative"}}},
   {"data":{"name":"pts"},"transform":[{"filter":"datum.p=='BL'"}],"mark":{"type":"tick","orient":"horizontal","size":5,"thickness":1,"color":"#000","clip":true},"encoding":{"x":{"field":"phi","type":"quantitative"},"y":{"field":"hi","type":"quantitative"}}},
   {"data":{"name":"pts"},"transform":[{"filter":"datum.p=='BL'"}],"mark":{"type":"circle","size":45,"color":"#000","opacity":1,"clip":true},"encoding":{"x":{"field":"phi","type":"quantitative"},"y":{"field":"v","type":"quantitative"}}},
   {"data":{"name":"lab"},"transform":[{"filter":"datum.p=='BL'"}],"mark":{"type":"text","fontWeight":"bold","fontSize":12,"color":"#111","align":"center","baseline":"middle"},"encoding":{"x":{"field":"phi","type":"quantitative"},"y":{"field":"v","type":"quantitative"},"text":{"field":"t"}}}
  ]},
  {"width":193,"height":205,"layer":[
   {"data":{"name":"pts"},"transform":[{"filter":"datum.p=='BM'"}],"mark":{"type":"area","color":"#808080","clip":true},
    "encoding":{"x":{"field":"phi","type":"quantitative","scale":{"domain":[0,360],"nice":false,"zero":false},"axis":{"values":[0,45,90,135,180,225,270,315,360],"labelExpr":"datum.value%90==0?''+datum.value:''","labelPadding":11,"title":"φ(deg)","titleY":31,"titleBaseline":"middle","titleFontSize":16,"tickSize":{"condition":{"test":"datum.value%90==0","value":-7},"value":-4}}},
     "y":{"field":"slo","type":"quantitative","scale":{"type":"log","domain":[0.0001,0.21],"nice":false},"axis":{"values":[0.0001,0.0002,0.0003,0.0004,0.0005,0.0006,0.0007,0.0008,0.0009,0.001,0.002,0.003,0.004,0.005,0.006,0.007,0.008,0.009,0.01,0.02,0.03,0.04,0.05,0.06,0.07,0.08,0.09,0.1,0.2],"labels":false,"title":null,"tickSize":{"condition":{"test":"datum.value==0.1||datum.value==0.01||datum.value==0.001||datum.value==0.0001","value":-8},"value":-4}}},
     "y2":{"field":"shi"}}},
   {"data":{"name":"pts"},"transform":[{"filter":"datum.p=='BM'"}],"mark":{"type":"line","color":"#6a6a6a","strokeWidth":1.2,"clip":true},"encoding":{"x":{"field":"phi","type":"quantitative"},"y":{"field":"v","type":"quantitative"}}},
   {"data":{"name":"cur"},"transform":[{"filter":"datum.p=='BM'"}],"mark":{"type":"line","strokeWidth":2,"interpolate":"monotone","clip":true},"encoding":{"x":{"field":"phi","type":"quantitative"},"y":{"field":"v","type":"quantitative"},"color":{"field":"m","type":"nominal","scale":{"domain":["VGG","BH","KMCS"],"range":["#2a2ad8","#e3262d","#35b04f"]},"legend":null}}},
   {"data":{"name":"pts"},"transform":[{"filter":"datum.p=='BM'"}],"mark":{"type":"rule","color":"#000","strokeWidth":1,"clip":true},"encoding":{"x":{"field":"phi","type":"quantitative"},"y":{"field":"lo","type":"quantitative"},"y2":{"field":"hi"}}},
   {"data":{"name":"pts"},"transform":[{"filter":"datum.p=='BM'"}],"mark":{"type":"tick","orient":"horizontal","size":5,"thickness":1,"color":"#000","clip":true},"encoding":{"x":{"field":"phi","type":"quantitative"},"y":{"field":"lo","type":"quantitative"}}},
   {"data":{"name":"pts"},"transform":[{"filter":"datum.p=='BM'"}],"mark":{"type":"tick","orient":"horizontal","size":5,"thickness":1,"color":"#000","clip":true},"encoding":{"x":{"field":"phi","type":"quantitative"},"y":{"field":"hi","type":"quantitative"}}},
   {"data":{"name":"pts"},"transform":[{"filter":"datum.p=='BM'"}],"mark":{"type":"circle","size":45,"color":"#000","opacity":1,"clip":true},"encoding":{"x":{"field":"phi","type":"quantitative"},"y":{"field":"v","type":"quantitative"}}},
   {"data":{"name":"lab"},"transform":[{"filter":"datum.p=='BM'"}],"mark":{"type":"text","fontWeight":"bold","fontSize":12,"color":"#111","align":"center","baseline":"middle"},"encoding":{"x":{"field":"phi","type":"quantitative"},"y":{"field":"v","type":"quantitative"},"text":{"field":"t"}}}
  ]},
  {"width":183,"height":205,"layer":[
   {"data":{"name":"pts"},"transform":[{"filter":"datum.p=='BR'"}],"mark":{"type":"area","color":"#808080","clip":true},
    "encoding":{"x":{"field":"phi","type":"quantitative","scale":{"domain":[0,348],"nice":false,"zero":false},"axis":{"values":[0,45,90,135,180,225,270,315],"labelExpr":"datum.value%90==0&&datum.value>0?''+datum.value:''","labelPadding":11,"title":null,"tickSize":{"condition":{"test":"datum.value%90==0","value":-7},"value":-4}}},
     "y":{"field":"slo","type":"quantitative","scale":{"type":"log","domain":[0.0001,0.21],"nice":false},"axis":{"values":[0.0001,0.0002,0.0003,0.0004,0.0005,0.0006,0.0007,0.0008,0.0009,0.001,0.002,0.003,0.004,0.005,0.006,0.007,0.008,0.009,0.01,0.02,0.03,0.04,0.05,0.06,0.07,0.08,0.09,0.1,0.2],"labels":false,"title":null,"tickSize":{"condition":{"test":"datum.value==0.1||datum.value==0.01||datum.value==0.001||datum.value==0.0001","value":-8},"value":-4}}},
     "y2":{"field":"shi"}}},
   {"data":{"name":"pts"},"transform":[{"filter":"datum.p=='BR'"}],"mark":{"type":"line","color":"#6a6a6a","strokeWidth":1.2,"clip":true},"encoding":{"x":{"field":"phi","type":"quantitative"},"y":{"field":"v","type":"quantitative"}}},
   {"data":{"name":"cur"},"transform":[{"filter":"datum.p=='BR'"}],"mark":{"type":"line","strokeWidth":2,"interpolate":"monotone","clip":true},"encoding":{"x":{"field":"phi","type":"quantitative"},"y":{"field":"v","type":"quantitative"},"color":{"field":"m","type":"nominal","scale":{"domain":["VGG","BH","KMCS"],"range":["#2a2ad8","#e3262d","#35b04f"]},"legend":null}}},
   {"data":{"name":"pts"},"transform":[{"filter":"datum.p=='BR'"}],"mark":{"type":"rule","color":"#000","strokeWidth":1,"clip":true},"encoding":{"x":{"field":"phi","type":"quantitative"},"y":{"field":"lo","type":"quantitative"},"y2":{"field":"hi"}}},
   {"data":{"name":"pts"},"transform":[{"filter":"datum.p=='BR'"}],"mark":{"type":"tick","orient":"horizontal","size":5,"thickness":1,"color":"#000","clip":true},"encoding":{"x":{"field":"phi","type":"quantitative"},"y":{"field":"lo","type":"quantitative"}}},
   {"data":{"name":"pts"},"transform":[{"filter":"datum.p=='BR'"}],"mark":{"type":"tick","orient":"horizontal","size":5,"thickness":1,"color":"#000","clip":true},"encoding":{"x":{"field":"phi","type":"quantitative"},"y":{"field":"hi","type":"quantitative"}}},
   {"data":{"name":"pts"},"transform":[{"filter":"datum.p=='BR'"}],"mark":{"type":"circle","size":45,"color":"#000","opacity":1,"clip":true},"encoding":{"x":{"field":"phi","type":"quantitative"},"y":{"field":"v","type":"quantitative"}}},
   {"data":{"name":"lab"},"transform":[{"filter":"datum.p=='BR'"}],"mark":{"type":"text","fontWeight":"bold","fontSize":12,"color":"#111","align":"center","baseline":"middle"},"encoding":{"x":{"field":"phi","type":"quantitative"},"y":{"field":"v","type":"quantitative"},"text":{"field":"t"}}}
  ]}
],
"columns":3,
"spacing":0,
"bounds":"flush"
}
